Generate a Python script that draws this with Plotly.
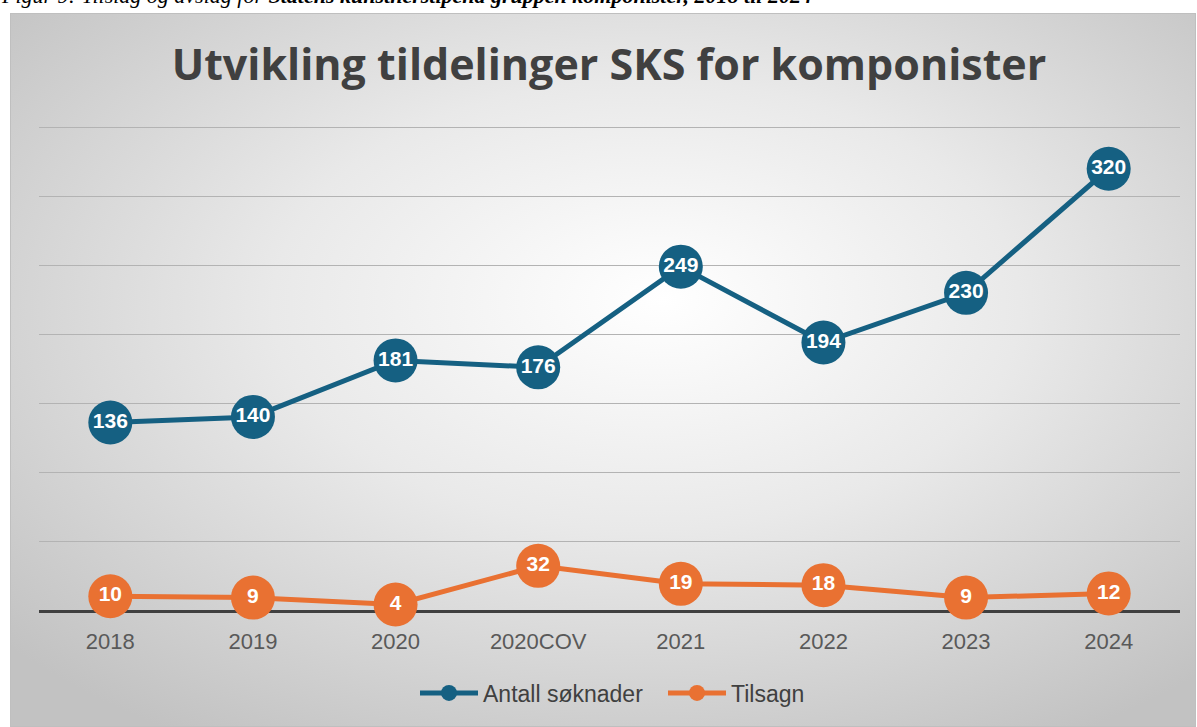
import base64
import plotly.graph_objects as go

categories = ["2018", "2019", "2020", "2020COV", "2021", "2022", "2023", "2024"]
antall_soknader = [136, 140, 181, 176, 249, 194, 230, 320]
tilsagn = [10, 9, 4, 32, 19, 18, 9, 12]

BLUE = "#156082"
ORANGE = "#E97132"

W, H = 1197, 727
L, R, T, B = 39, 17, 126, 117
pw, ph = W - L - R, H - T - B

svg = """<svg xmlns='http://www.w3.org/2000/svg' width='1186' height='714' viewBox='0 0 1186 714' preserveAspectRatio='none'>
<defs><radialGradient id='g' cx='52%' cy='42%' r='70%' fx='55%' fy='40%'>
<stop offset='0%' stop-color='#ffffff'/>
<stop offset='45%' stop-color='#e9e9e9'/>
<stop offset='100%' stop-color='#c2c2c2'/>
</radialGradient></defs>
<rect x='0' y='0' width='1186' height='714' fill='url(#g)'/>
<rect x='0.5' y='0.5' width='1185' height='713' fill='none' stroke='#bfbfbf' stroke-width='1'/>
</svg>"""
src = "data:image/svg+xml;base64," + base64.b64encode(svg.encode()).decode()

def px2x(p):
    return (p - L) / pw

def py2y(p):
    return (H - B - p) / ph

fig = go.Figure()
for name, vals, col in [("Antall søknader", antall_soknader, BLUE), ("Tilsagn", tilsagn, ORANGE)]:
    fig.add_trace(go.Scatter(
        x=categories, y=vals, name=name, mode="lines+markers",
        line=dict(color=col, width=5),
        marker=dict(color=col, size=44),
        cliponaxis=False,
    ))
for vals in [antall_soknader, tilsagn]:
    fig.add_trace(go.Scatter(
        x=categories, y=vals, mode="text", text=[str(v) for v in vals],
        textposition="middle center", showlegend=False,
        textfont=dict(family="Liberation Sans", size=21, color="white", weight="bold"),
        cliponaxis=False, hoverinfo="skip",
    ))

fig.add_layout_image(dict(
    source=src, xref="paper", yref="paper",
    x=px2x(10), y=py2y(13), sizex=px2x(1196) - px2x(10), sizey=py2y(13) - py2y(727),
    xanchor="left", yanchor="top", sizing="stretch", layer="below",
))

fig.add_annotation(
    xref="paper", yref="paper", x=px2x(-1), y=py2y(10), xanchor="left", yanchor="bottom",
    text="Figur 9: Tilslag og avslag for <b>Statens kunstnerstipend gruppen komponister, 2018 til 2024</b>",
    showarrow=False, font=dict(family="Liberation Serif", size=22, color="black", style="italic"),
)

fig.update_layout(
    width=W, height=H,
    margin=dict(l=L, r=R, t=T, b=B),
    paper_bgcolor="white", plot_bgcolor="rgba(0,0,0,0)",
    title=dict(text="<b>Utvikling tildelinger SKS for komponister</b>", x=609 / W,
               xanchor="center", y=1 - 65 / H, yanchor="middle",
               font=dict(family="Open Sans", size=43, color="#404040")),
    showlegend=True,
    legend=dict(orientation="h", x=px2x(415), xanchor="left", y=py2y(693), yanchor="middle",
                font=dict(family="Liberation Sans", size=23, color="#404040"),
                bgcolor="rgba(0,0,0,0)", itemwidth=58, entrywidth=175),
    xaxis=dict(type="category", range=[-0.5, 7.5], showgrid=False, zeroline=False,
               showline=True, linecolor="#404040", linewidth=3, layer="below traces",
               tickfont=dict(family="Liberation Sans", size=22, color="#595959"),
               ticks="", ticklabelstandoff=10, fixedrange=True),
    yaxis=dict(range=[0, 351], dtick=50, showgrid=True, gridcolor="#b3b3b3", gridwidth=1.2,
               showticklabels=False, zeroline=False, showline=False, layer="below traces"),
)

fig.write_html("out.html", config={"displayModeBar": False},
               post_script="document.body.style.margin='0';document.body.style.overflow='hidden';")
